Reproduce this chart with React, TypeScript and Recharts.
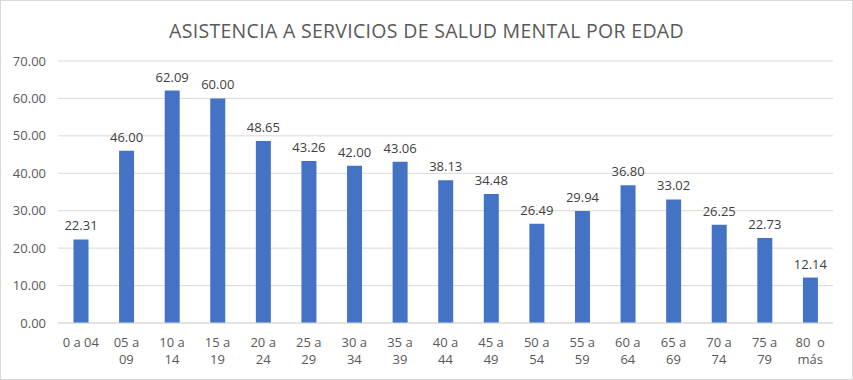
import { BarChart, Bar, XAxis, YAxis, CartesianGrid, LabelList } from "recharts";

const CATEGORIES = [
  "0 a 04", "05 a|09", "10 a|14", "15 a|19", "20 a|24", "25 a|29", "30 a|34", "35 a|39", "40 a|44",
  "45 a|49", "50 a|54", "55 a|59", "60 a|64", "65 a|69", "70 a|74", "75 a|79", "80  o|más",
];
const VALUES = [
  22.31, 46.0, 62.09, 60.0, 48.65, 43.26, 42.0, 43.06, 38.13, 34.48, 26.49, 29.94, 36.8, 33.02, 26.25,
  22.73, 12.14,
];
const Y_TICKS = [0, 10, 20, 30, 40, 50, 60, 70];

const data = CATEGORIES.map((c, i) => ({ name: c, value: VALUES[i] }));

const FONT = "'Open Sans', sans-serif";
const TEXT = "#595959";
const BAR = "#4472C4";

function AgeTick({ x, y, payload }: any) {
  const lines = String(payload.value).split("|");
  return (
    <text x={x} y={y} textAnchor="middle" fill={TEXT} fontSize={13} fontFamily={FONT}>
      {lines.map((l, i) => (
        <tspan key={i} x={x} dy={i === 0 ? 16 : 17} style={{ whiteSpace: "pre" }}>
          {l}
        </tspan>
      ))}
    </text>
  );
}

export default function App() {
  return (
    <div
      style={{
        position: "absolute",
        left: 0,
        top: 0,
        width: 851,
        height: 378,
        border: "1px solid #d9d9d9",
        background: "#fff",
      }}
    >
      <div
        style={{
          position: "absolute",
          top: 16,
          left: 0,
          width: 851,
          textAlign: "center",
          fontFamily: FONT,
          fontSize: 19.5,
          color: TEXT,
          letterSpacing: 0.3,
        }}
      >
        ASISTENCIA A SERVICIOS DE SALUD MENTAL POR EDAD
      </div>
      <BarChart
        width={851}
        height={378}
        data={data}
        margin={{ top: 60, right: 19, left: 0, bottom: 0 }}
        barCategoryGap="34%"
      >
        <CartesianGrid vertical={false} stroke="#d9d9d9" />
        <XAxis
          dataKey="name"
          interval={0}
          tick={<AgeTick />}
          tickLine={false}
          axisLine={{ stroke: "#d9d9d9" }}
          height={56}
        />
        <YAxis
          width={57}
          domain={[0, 70]}
          ticks={Y_TICKS}
          tickFormatter={(v: number) => v.toFixed(2)}
          axisLine={false}
          tickLine={false}
          tickMargin={6}
          tick={{ fill: TEXT, fontSize: 13, fontFamily: FONT }}
        />
        <Bar dataKey="value" fill={BAR} isAnimationActive={false}>
          <LabelList
            dataKey="value"
            position="top"
            offset={9}
            formatter={(v: any) => Number(v).toFixed(2)}
            style={{ fill: "#404040", fontSize: 13, fontFamily: FONT }}
          />
        </Bar>
      </BarChart>
    </div>
  );
}
